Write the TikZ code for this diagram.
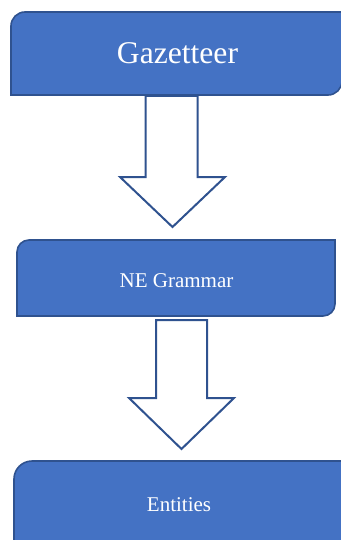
\documentclass[tikz,border=0pt]{standalone}
\usepackage{fontspec}
\setmainfont{Liberation Serif}
\definecolor{boxfill}{HTML}{4472C4}
\definecolor{boxline}{HTML}{2F528F}
\tikzset{
  stagebox/.style={fill=boxfill, draw=boxline, line width=1.6pt},
  flowarrow/.style={fill=white, draw=boxline, line width=2pt, line join=miter},
  stagetext/.style={text=white, inner sep=0pt, anchor=center},
}
% box with rounded top-left and bottom-right corners: #1 left, #2 top, #3 right, #4 bottom, #5 radius
\newcommand{\diagbox}[5]{%
  \path[stagebox] (#1+#5,#2) -- (#3,#2) -- (#3,#4-#5)
    .. controls (#3,#4-0.448*#5) and (#3-0.448*#5,#4) .. (#3-#5,#4)
    -- (#1,#4) -- (#1,#2+#5)
    .. controls (#1,#2+0.448*#5) and (#1+0.448*#5,#2) .. (#1+#5,#2) -- cycle;}
% hollow down arrow: #1 shaft left, #2 shaft right, #3 top, #4 head top, #5 head left, #6 head right, #7 tip
\newcommand{\downarrowshape}[7]{%
  \path[flowarrow] (#1,#3) -- (#2,#3) -- (#2,#4) -- (#6,#4) -- ({(#5+#6)/2},#7)
    -- (#5,#4) -- (#1,#4) -- cycle;}
\begin{document}
\begin{tikzpicture}[x=1pt,y=-1pt]
  \useasboundingbox (0,0) rectangle (340,540);

  % stages
  \diagbox{11}{12}{342}{95}{14}
  \diagbox{17}{240}{335}{316}{12}
  \diagbox{14}{461}{343}{552}{18}

  % arrows between stages
  \downarrowshape{145.5}{197.5}{96}{177}{120}{225}{227}
  \downarrowshape{156}{207}{320}{398}{129}{234}{449}

  % labels
  \node[stagetext, font=\fontsize{31.6}{36}\selectfont] (gaz) at (177.5,53) {Gazetteer};
  \node[stagetext, font=\fontsize{21}{25}\selectfont] (gram) at (176.5,281) {NE Grammar};
  \node[stagetext, font=\fontsize{21}{25}\selectfont] (ent) at (179,505) {Entities};
\end{tikzpicture}
\end{document}
